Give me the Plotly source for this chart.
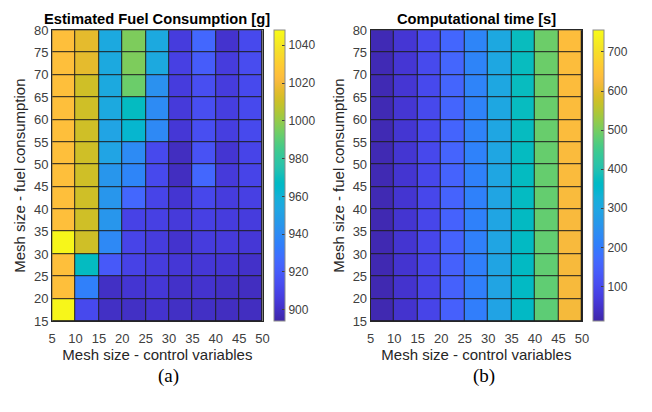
import plotly.graph_objects as go

# ---- data ----
x_centers = [7.5, 12.5, 17.5, 22.5, 27.5, 32.5, 37.5, 42.5, 47.5]
y_centers = [17.5, 22.5, 27.5, 32.5, 37.5, 42.5, 47.5, 52.5, 57.5, 62.5, 67.5, 72.5, 77.5]
x_ticks = [5, 10, 15, 20, 25, 30, 35, 40, 45, 50]
y_ticks = [15, 20, 25, 30, 35, 40, 45, 50, 55, 60, 65, 70, 75, 80]

# rows bottom (15-20) -> top (75-80); columns 5-10 ... 45-50
fuel = [
    [1046, 912, 900, 900, 902, 900, 900, 899, 899],
    [1024, 935, 900, 903, 904, 901, 902, 900, 899],
    [1024, 968, 919, 909, 906, 904, 904, 903, 901],
    [1046, 1011, 939, 910, 906, 902, 906, 905, 904],
    [1024, 1011, 945, 909, 908, 905, 908, 906, 906],
    [1024, 1011, 945, 925, 910, 903, 911, 906, 908],
    [1024, 1011, 945, 937, 912, 899, 925, 905, 910],
    [1024, 1011, 952, 940, 912, 899, 916, 903, 910],
    [1024, 1011, 952, 963, 939, 904, 914, 907, 912],
    [1024, 1011, 955, 968, 940, 905, 914, 907, 912],
    [1024, 1011, 955, 993, 943, 906, 914, 906, 912],
    [1024, 1016, 955, 996, 955, 908, 920, 906, 913],
    [1024, 1016, 955, 996, 955, 906, 925, 902, 912],
]

comp_time = [
    [20, 50, 88, 145, 205, 290, 362, 478, 622],
    [20, 50, 88, 147, 207, 292, 364, 480, 624],
    [21, 52, 90, 148, 208, 293, 365, 481, 625],
    [21, 53, 91, 150, 210, 294, 366, 482, 626],
    [21, 53, 92, 151, 211, 295, 367, 483, 627],
    [22, 54, 93, 152, 212, 296, 368, 484, 628],
    [22, 54, 94, 153, 213, 297, 369, 485, 629],
    [22, 55, 95, 154, 214, 298, 370, 486, 630],
    [23, 55, 96, 155, 215, 299, 371, 487, 631],
    [23, 56, 97, 156, 216, 300, 372, 488, 632],
    [23, 56, 98, 157, 217, 301, 373, 489, 633],
    [24, 57, 99, 158, 218, 302, 374, 490, 634],
    [24, 57, 100, 159, 219, 303, 375, 491, 635],
]

fuel_cticks = [900, 920, 940, 960, 980, 1000, 1020, 1040]
time_cticks = [100, 200, 300, 400, 500, 600, 700]

# ---- style ----
parula_rgb = [
    (0.2422, 0.1504, 0.6603), (0.2504, 0.1650, 0.7076), (0.2578, 0.1818, 0.7511), (0.2647, 0.1978, 0.7952),
    (0.2706, 0.2147, 0.8364), (0.2751, 0.2342, 0.8710), (0.2783, 0.2559, 0.8991), (0.2803, 0.2782, 0.9221),
    (0.2813, 0.3006, 0.9414), (0.2810, 0.3228, 0.9579), (0.2795, 0.3447, 0.9717), (0.2760, 0.3667, 0.9829),
    (0.2699, 0.3892, 0.9906), (0.2602, 0.4123, 0.9952), (0.2440, 0.4358, 0.9988), (0.2206, 0.4603, 0.9973),
    (0.1963, 0.4847, 0.9892), (0.1834, 0.5074, 0.9798), (0.1786, 0.5289, 0.9682), (0.1764, 0.5499, 0.9520),
    (0.1687, 0.5703, 0.9359), (0.1540, 0.5902, 0.9218), (0.1460, 0.6091, 0.9079), (0.1380, 0.6276, 0.8973),
    (0.1248, 0.6459, 0.8883), (0.1113, 0.6635, 0.8763), (0.0952, 0.6798, 0.8598), (0.0689, 0.6948, 0.8394),
    (0.0297, 0.7082, 0.8163), (0.0036, 0.7203, 0.7917), (0.0067, 0.7312, 0.7660), (0.0433, 0.7411, 0.7394),
    (0.0964, 0.7500, 0.7120), (0.1408, 0.7584, 0.6842), (0.1717, 0.7670, 0.6554), (0.1938, 0.7758, 0.6251),
    (0.2161, 0.7843, 0.5923), (0.2470, 0.7918, 0.5567), (0.2906, 0.7973, 0.5188), (0.3406, 0.8008, 0.4789),
    (0.3909, 0.8029, 0.4354), (0.4456, 0.8024, 0.3909), (0.5044, 0.7993, 0.3480), (0.5616, 0.7942, 0.3045),
    (0.6174, 0.7876, 0.2612), (0.6720, 0.7793, 0.2227), (0.7242, 0.7698, 0.1910), (0.7738, 0.7598, 0.1646),
    (0.8203, 0.7498, 0.1535), (0.8634, 0.7406, 0.1596), (0.9035, 0.7330, 0.1774), (0.9393, 0.7288, 0.2100),
    (0.9728, 0.7298, 0.2394), (0.9956, 0.7434, 0.2371), (0.9970, 0.7659, 0.2199), (0.9952, 0.7893, 0.2028),
    (0.9892, 0.8136, 0.1885), (0.9786, 0.8386, 0.1766), (0.9676, 0.8639, 0.1643), (0.9610, 0.8890, 0.1537),
    (0.9597, 0.9135, 0.1423), (0.9628, 0.9373, 0.1265), (0.9691, 0.9606, 0.1064), (0.9769, 0.9839, 0.0805),
]
n = len(parula_rgb)
parula = [[i / (n - 1), "rgb(%d,%d,%d)" % tuple(round(c * 255) for c in rgb)] for i, rgb in enumerate(parula_rgb)]

W, H = 652, 412
FONT = "Liberation Sans, Arial, sans-serif"
TICKC = "#404040"

def px(v):
    return v / W

def py(v):
    return 1 - v / H

top, bottom = 24, 326
panels = [
    dict(xl=49, xr=263, cb=275, z=fuel, zmin=894, zmax=1048, ct=fuel_cticks,
         title="Estimated Fuel Consumption [g]", tag="(a)", tagx=167),
    dict(xl=373, xr=588, cb=599, z=comp_time, zmin=11, zmax=756, ct=time_cticks,
         title="Computational time [s]", tag="(b)", tagx=488),
]

fig = go.Figure()
annotations = []
for i, p in enumerate(panels):
    sfx = "" if i == 0 else str(i + 1)
    fig.add_trace(go.Heatmap(
        x=x_centers, y=y_centers, z=p["z"], zmin=p["zmin"], zmax=p["zmax"],
        colorscale=parula, xgap=1, ygap=1,
        xaxis="x" + sfx, yaxis="y" + sfx,
        colorbar=dict(
            x=px(p["cb"]), xanchor="left", xref="paper", xpad=0,
            y=py(top), yanchor="top", yref="paper", ypad=0,
            len=(bottom - top) / H, lenmode="fraction",
            thickness=11, thicknessmode="pixels",
            outlinewidth=1, outlinecolor="#8a8a8a",
            tickvals=p["ct"], ticks="inside", ticklen=3, tickcolor="#404040",
            tickfont=dict(family=FONT, size=12, color=TICKC),
        ),
        hoverinfo="x+y+z",
    ))
    axis_common = dict(
        showgrid=False, zeroline=False, showline=True, mirror=True,
        linecolor="#262626", linewidth=1, tickfont=dict(family=FONT, size=13, color=TICKC),
    )
    fig.update_layout(**{
        "xaxis" + sfx: dict(axis_common, domain=[px(p["xl"]), px(p["xr"])], range=[5, 50],
                            tickvals=x_ticks, anchor="y" + sfx,
                            ticks="outside", ticklen=5, tickcolor="rgba(0,0,0,0)",
                            title=dict(text="Mesh size - control variables", standoff=3,
                                       font=dict(family=FONT, size=15, color="#262626"))),
        "yaxis" + sfx: dict(axis_common, domain=[py(bottom), py(top)], range=[15, 80.001],
                            tickvals=y_ticks, anchor="x" + sfx, ticks="",
                            title=dict(text="Mesh size - fuel consumption", standoff=4,
                                       font=dict(family=FONT, size=15, color="#262626"))),
    })
    annotations.append(dict(text="<b>" + p["title"] + "</b>", x=px((p["xl"] + p["xr"]) / 2), y=py(12),
                            xref="paper", yref="paper", xanchor="center", yanchor="middle", showarrow=False,
                            font=dict(family=FONT, size=14.7, color="#000000")))
    annotations.append(dict(text=p["tag"], x=px(p["tagx"]), y=py(383), xref="paper", yref="paper",
                            xanchor="center", yanchor="middle", showarrow=False,
                            font=dict(family="Liberation Serif, Times New Roman, serif",
                                      size=19, color="#000000")))

fig.update_layout(
    width=W, height=H, margin=dict(l=0, r=0, t=0, b=0),
    paper_bgcolor="white", plot_bgcolor="#1e1e1e",
    annotations=annotations, showlegend=False,
)

fig.write_html("out.html")
